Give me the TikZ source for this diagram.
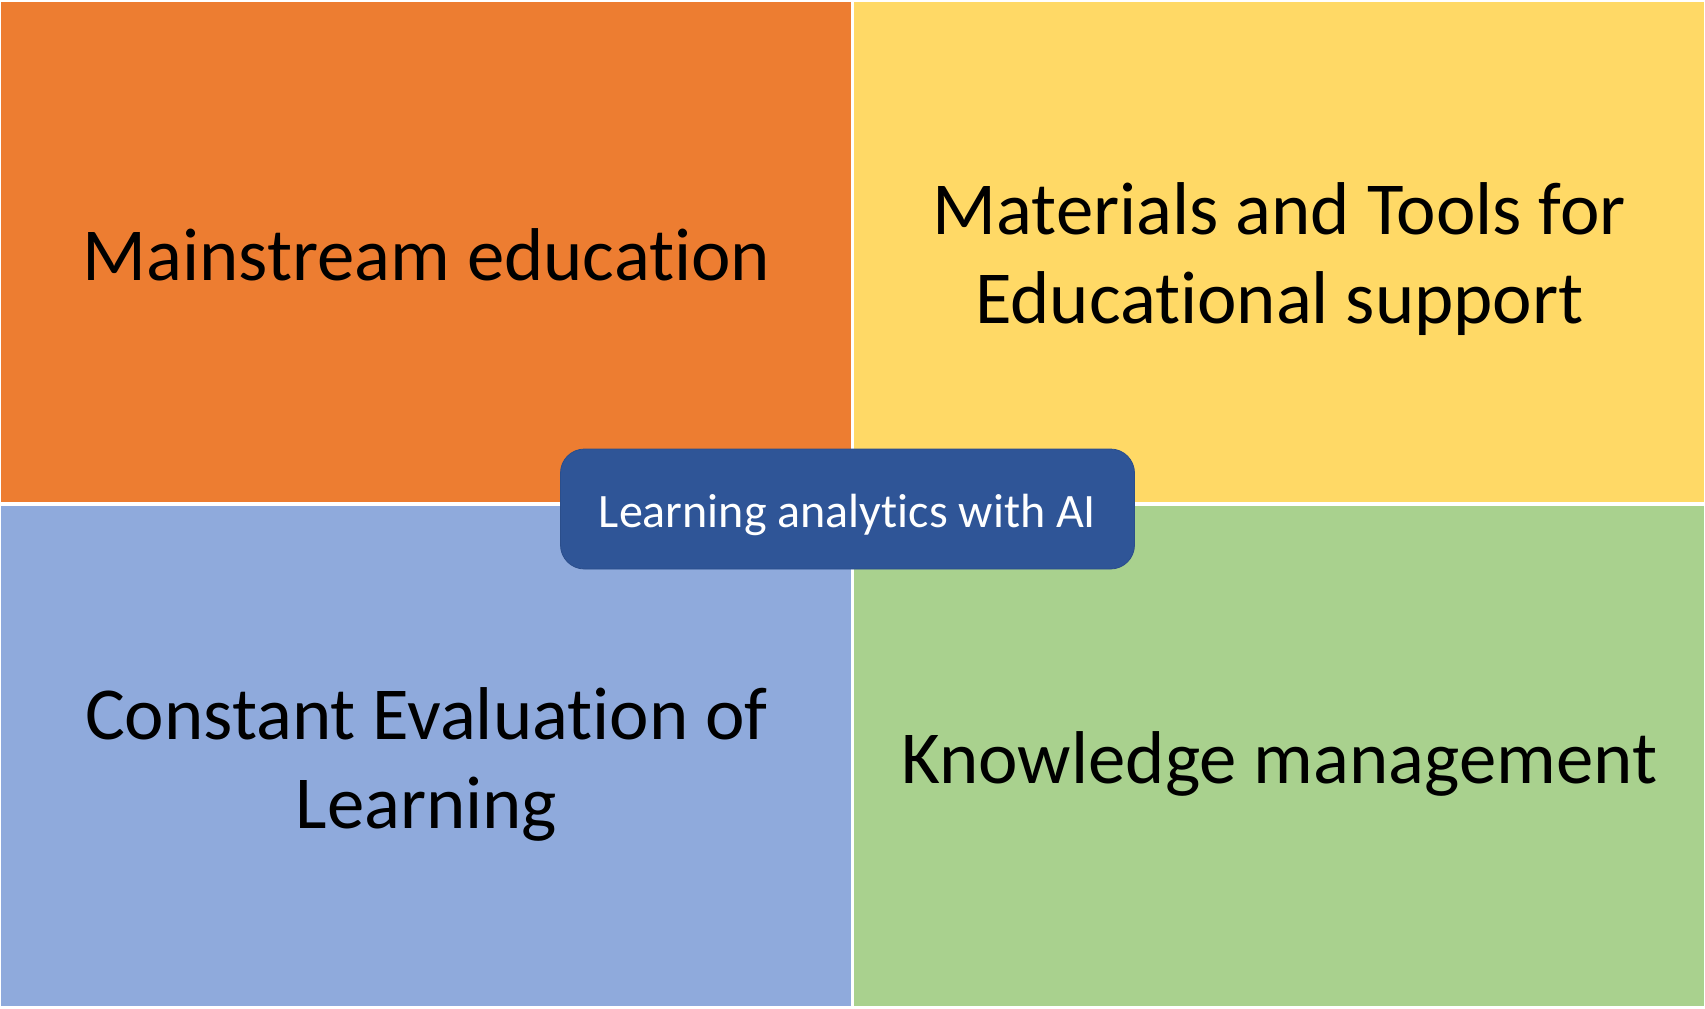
\documentclass[tikz,border=0pt]{standalone}
\usepackage{fontspec}
\setmainfont{Carlito}[Ligatures=NoCommon]
\usetikzlibrary{positioning}
\definecolor{quadorange}{HTML}{ED7D31}
\definecolor{quadyellow}{HTML}{FFD966}
\definecolor{quadblue}{HTML}{8FAADC}
\definecolor{quadgreen}{HTML}{A9D18E}
\definecolor{hubblue}{HTML}{2F5597}
\tikzset{
    %Define style for the four quarters
    quad/.style={
           rectangle,
           draw=none,
           inner sep=0pt,
           minimum width=425pt,
           minimum height=250pt,
           anchor=north west},
    quadtext/.style={
           align=center,
           font=\fontsize{37.4}{44.5}\selectfont},
    %Define style for the middle box
    hub/.style={
    rectangle,
    rounded corners=12pt,
    fill=hubblue,
    draw=hubblue!92!black, thin,
    minimum width=287pt,
    minimum height=60pt},
    hubtext/.style={
    text=white,
    font=\fontsize{24}{29}\selectfont,
    text centered}
}
\begin{document}
\begin{tikzpicture}[x=0.5pt,y=-0.5pt]
\fill[white] (0,0) rectangle (1705,1008);
\useasboundingbox (0,0) rectangle (1705,1008);

 %quarters
\node[quad, fill=quadorange] (main) at (1,2) {};
\node[quad, fill=quadyellow] (tools) at (854,2) {};
\node[quad, fill=quadblue] (eval) at (1,506) {};
\node[quad, fill=quadgreen] (know) at (854,506) {};

\node[quadtext] (mainlabel) at ([yshift=-1pt]main.center) {Mainstream education};
\node[quadtext] (toolslabel) at ([yshift=-3.3pt]tools.center) {Materials and Tools for\\Educational support};
\node[quadtext] (evallabel) at ([yshift=-3.8pt]eval.center) {Constant Evaluation of\\Learning};
\node[quadtext] (knowlabel) at ([yshift=-3.8pt]know.center) {Knowledge management};

 %middle
\node[hub] (ai) at (847.5,509) {};
\node[hubtext] (ailabel) at ([yshift=-3pt]ai.center) {Learning analytics with AI};
\end{tikzpicture}
\end{document}
